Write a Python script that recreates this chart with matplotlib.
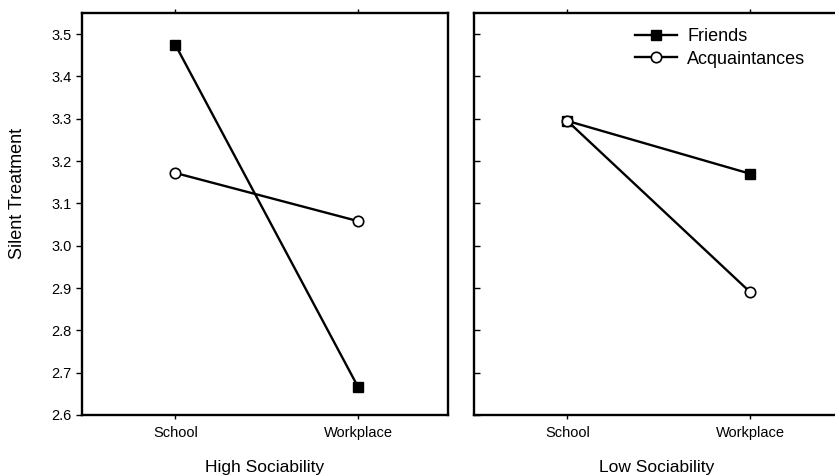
"""plot.py - silent treatment interaction plot"""

import matplotlib.pyplot as plt

plt.rcParams['font.family'] = ['Liberation Sans', 'DejaVu Sans']

# Data
contexts = ['School', 'Workplace']
panels = ['High Sociability', 'Low Sociability']
friends = [[3.475, 2.665], [3.295, 3.170]]
acquaintances = [[3.172, 3.058], [3.295, 2.890]]
yticks = [2.6, 2.7, 2.8, 2.9, 3.0, 3.1, 3.2, 3.3, 3.4, 3.5]

fig = plt.figure(figsize=(8.35, 4.76), dpi=100)
W, H = 835, 476
ax1 = fig.add_axes([82 / W, 1 - 415 / H, 366 / W, 402 / H])
ax2 = fig.add_axes([474 / W, 1 - 415 / H, 366 / W, 402 / H])

x = [0, 1]
for i, ax in enumerate([ax1, ax2]):
    ax.plot(x, friends[i], color='black', lw=1.7, marker='s', ms=7.5,
            mfc='black', mec='black', label='Friends', zorder=3)
    ax.plot(x, acquaintances[i], color='black', lw=1.7, marker='o', ms=7.5,
            mfc='white', mec='black', mew=1.2, label='Acquaintances', zorder=4)
    ax.set_xlim(-0.51, 1.49)
    ax.set_ylim(2.6, 3.55)
    ax.set_xticks(x)
    ax.set_xticklabels(contexts, fontsize=10.5)
    ax.set_yticks(yticks)
    ax.set_xlabel(panels[i], fontsize=12.5, labelpad=14)
    for s in ax.spines.values():
        s.set_linewidth(1.7)
    ax.tick_params(axis='x', direction='out', length=3, width=1, pad=5, top=True)
    ax.tick_params(axis='y', length=4, width=1)

ax1.set_yticklabels(['%.1f' % v for v in yticks], fontsize=10.5)
ax1.set_ylabel('Silent Treatment', fontsize=13)
ax1.yaxis.set_label_coords(-0.152, 0.55)
ax2.tick_params(axis='y', direction='in', labelleft=False)

ax2.legend(loc='upper left', bbox_to_anchor=(0.44, 0.962), frameon=False,
           fontsize=13, handlelength=2.3, handletextpad=0.6,
           labelspacing=0.3, borderaxespad=0, borderpad=0)

fig.savefig('out.png', dpi=100)
